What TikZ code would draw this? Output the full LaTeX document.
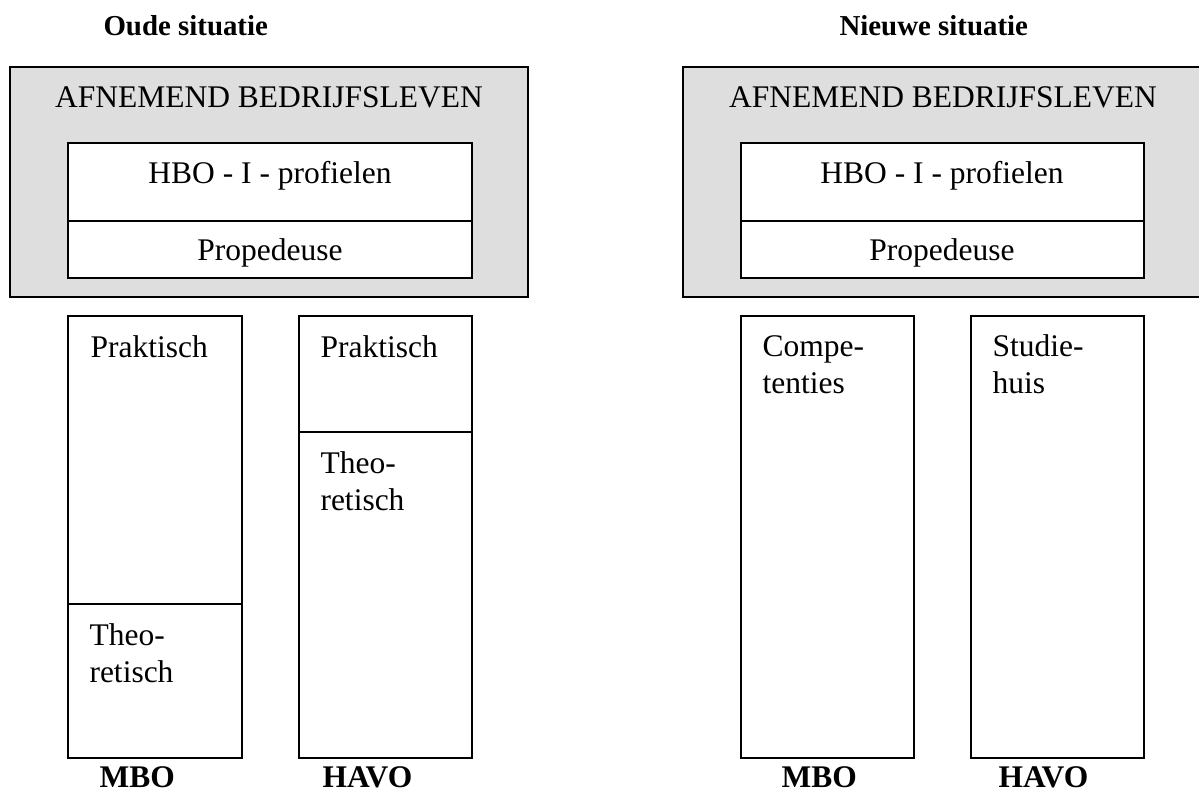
\documentclass[tikz,border=0pt]{standalone}
\usepackage{fontspec}
\setmainfont{Liberation Serif}
\usepackage{tikz}
\tikzstyle{grey_box} = [draw, line width=0.8pt, fill=black!13]
\tikzstyle{white_box} = [draw, line width=0.8pt, fill=white]
\tikzstyle{txt} = [inner sep=0pt, anchor=base west, align=left, font=\fontsize{12}{13.8}\selectfont]
\tikzstyle{txt_c} = [inner sep=0pt, anchor=base, font=\fontsize{12}{13.8}\selectfont]
\tikzstyle{head} = [inner sep=0pt, anchor=base west, font=\fontsize{12}{13.8}\selectfont\bfseries]
\tikzstyle{title} = [head, font=\fontsize{11}{13}\selectfont\bfseries]

\begin{document}
\begin{tikzpicture}[x=0.381pt, y=-0.381pt]
\useasboundingbox (0,0) rectangle (1199,802);

% oude situatie
\node [title] (old_title) at (103,35) {Oude situatie};
\draw [grey_box] (10,67) rectangle (528,297);
\node [txt_c] (old_firms) at (269,107) {AFNEMEND BEDRIJFSLEVEN};
\draw [white_box] (68,143) rectangle (472,221);
\node [txt_c] (old_hbo) at (270,183) {HBO - I - profielen};
\draw [white_box] (68,221) rectangle (472,278);
\node [txt_c] (old_prop) at (270,260) {Propedeuse};

\draw [white_box] (68,316) rectangle (242,604);
\node [txt] (old_mbo_p) at (90,357) {Praktisch};
\draw [white_box] (68,604) rectangle (242,758);
\node [txt] (old_mbo_t) at (89,682) {Theo-\\retisch};

\draw [white_box] (299,316) rectangle (472,432);
\node [txt] (old_havo_p) at (320,357) {Praktisch};
\draw [white_box] (299,432) rectangle (472,758);
\node [txt] (old_havo_t) at (320,510) {Theo-\\retisch};

\node [head] (old_mbo) at (99,787) {MBO};
\node [head] (old_havo) at (322,787) {HAVO};

% nieuwe situatie
\node [title] (new_title) at (839,35) {Nieuwe situatie};
\draw [grey_box] (683,67) rectangle (1204,297);
\node [txt_c] (new_firms) at (943,107) {AFNEMEND BEDRIJFSLEVEN};
\draw [white_box] (741,143) rectangle (1144,221);
\node [txt_c] (new_hbo) at (942,183) {HBO - I - profielen};
\draw [white_box] (741,221) rectangle (1144,278);
\node [txt_c] (new_prop) at (942,260) {Propedeuse};

\draw [white_box] (741,316) rectangle (914,758);
\node [txt] (new_mbo_c) at (762,393) {Compe-\\tenties};
\draw [white_box] (971,316) rectangle (1144,758);
\node [txt] (new_havo_s) at (992,393) {Studie-\\huis};

\node [head] (new_mbo) at (781,787) {MBO};
\node [head] (new_havo) at (998,787) {HAVO};
\end{tikzpicture}
\end{document}
